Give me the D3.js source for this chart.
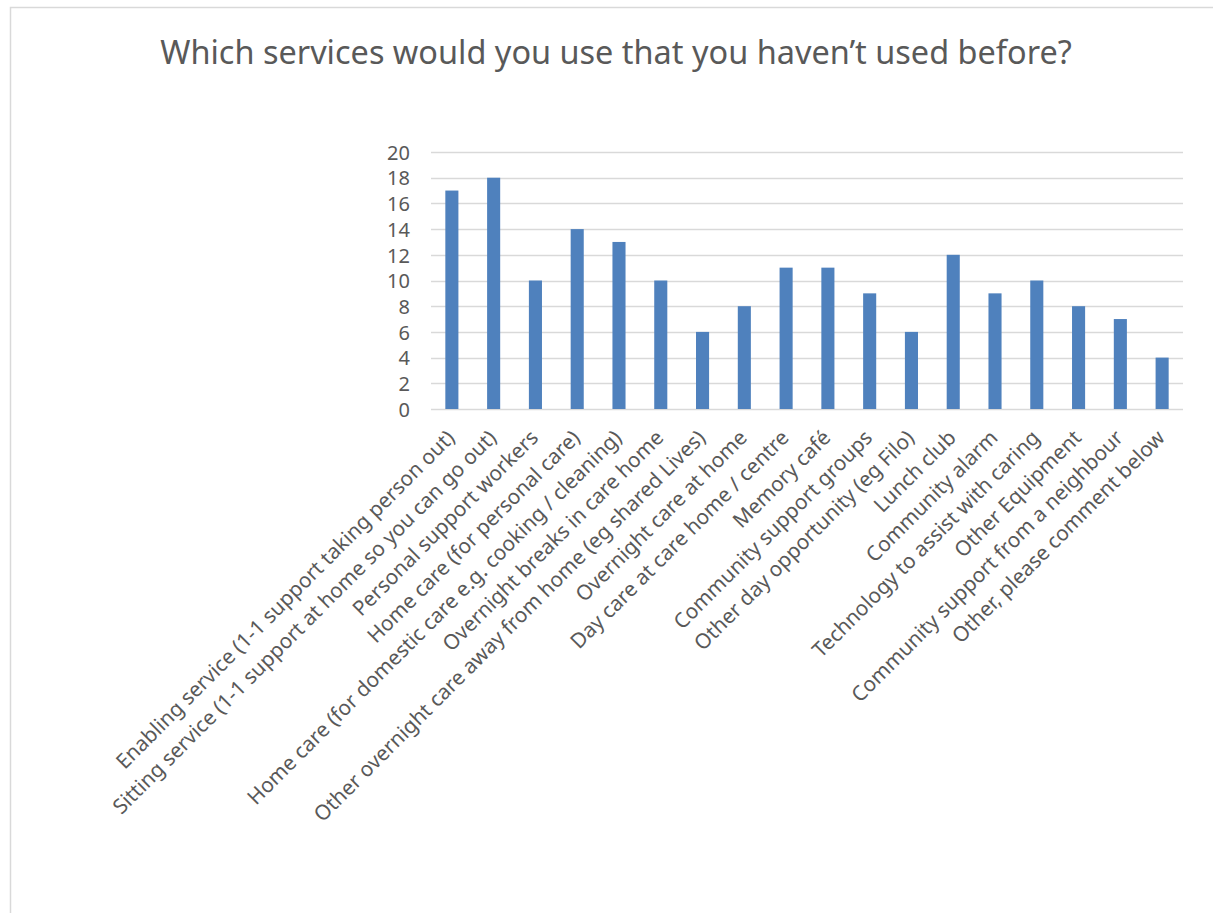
<!DOCTYPE html>
<html>
<head>
<meta charset="utf-8">
<script src="https://cdn.jsdelivr.net/npm/d3@7"></script>
<style>
  html, body { margin: 0; padding: 0; background: #ffffff; }
  svg { display: block; }
</style>
</head>
<body>
<svg id="chart" width="1213" height="913"></svg>
<script>
// Survey responses: services people would use that they haven't used before
const title = "Which services would you use that you haven\u2019t used before?";

const categories = [
  "Enabling service (1-1 support taking person out)",
  "Sitting service (1-1 support at home so you can go out)",
  "Personal support workers",
  "Home care (for personal care)",
  "Home care (for domestic care e.g. cooking / cleaning)",
  "Overnight breaks in care home",
  "Other overnight care away from home (eg shared Lives)",
  "Overnight care at home",
  "Day care at care home / centre",
  "Memory caf\u00e9",
  "Community support groups",
  "Other day opportunity (eg Filo)",
  "Lunch club",
  "Community alarm",
  "Technology to assist with caring",
  "Other Equipment",
  "Community support from a neighbour",
  "Other, please comment below"
];

const counts = [17, 18, 10, 14, 13, 10, 6, 8, 11, 11, 9, 6, 12, 9, 10, 8, 7, 4];

const yTicks = [0, 2, 4, 6, 8, 10, 12, 14, 16, 18, 20];

const FONT = "'Noto Sans', 'Open Sans', sans-serif";
const TEXT = "#595959";
const GRID = "#d9d9d9";
const BAR = "#4f81bd";

const svg = d3.select("#chart");

// outer chart frame (extends past the right and bottom edges)
svg.append("rect")
  .attr("x", 10.5).attr("y", 7.5)
  .attr("width", 1400).attr("height", 1200)
  .attr("fill", "#ffffff")
  .attr("stroke", GRID).attr("stroke-width", 1.5);

const plot = { left: 431, right: 1183, top: 152, bottom: 409 };

const x = d3.scaleBand()
  .domain(categories)
  .range([plot.left, plot.right])
  .paddingInner(0.687)
  .paddingOuter(0.343);

const y = d3.scaleLinear()
  .domain([0, 20])
  .range([plot.bottom, plot.top]);

// horizontal gridlines
svg.append("g")
  .selectAll("line")
  .data(yTicks)
  .join("line")
  .attr("x1", plot.left).attr("x2", plot.right)
  .attr("y1", d => Math.round(y(d)) + 0.5)
  .attr("y2", d => Math.round(y(d)) + 0.5)
  .attr("stroke", GRID).attr("stroke-width", 1.5);

// y axis labels
const yAxis = d3.axisLeft(y).tickValues(yTicks).tickSize(0).tickPadding(0);
const yg = svg.append("g")
  .attr("transform", `translate(${plot.left - 21},0)`)
  .call(yAxis);
yg.select(".domain").remove();
yg.selectAll("text")
  .attr("fill", TEXT)
  .attr("font-family", FONT)
  .attr("font-size", 20)
  .attr("dy", "0.36em");

// bars
svg.append("g")
  .selectAll("rect")
  .data(categories)
  .join("rect")
  .attr("x", d => x(d))
  .attr("width", x.bandwidth())
  .attr("y", (d, i) => y(counts[i]))
  .attr("height", (d, i) => y(0) - y(counts[i]))
  .attr("fill", BAR);

// category labels, rotated 45 degrees
const xAxis = d3.axisBottom(x).tickSize(0).tickPadding(0);
const xg = svg.append("g")
  .attr("transform", `translate(0,${plot.bottom})`)
  .call(xAxis);
xg.select(".domain").remove();
xg.selectAll("text")
  .attr("fill", TEXT)
  .attr("font-family", FONT)
  .attr("font-size", 20.8)
  .attr("text-anchor", "end")
  .attr("dy", null)
  .attr("y", 0)
  .attr("transform", "translate(4,30) rotate(-45)");

// title, fitted to its width
const t = svg.append("text")
  .attr("x", 616).attr("y", 64)
  .attr("text-anchor", "middle")
  .attr("fill", TEXT)
  .attr("font-family", FONT)
  .attr("font-size", 36)
  .text(title);
const tw = t.node().getComputedTextLength();
t.attr("font-size", 36 * 912 / tw);
</script>
</body>
</html>
